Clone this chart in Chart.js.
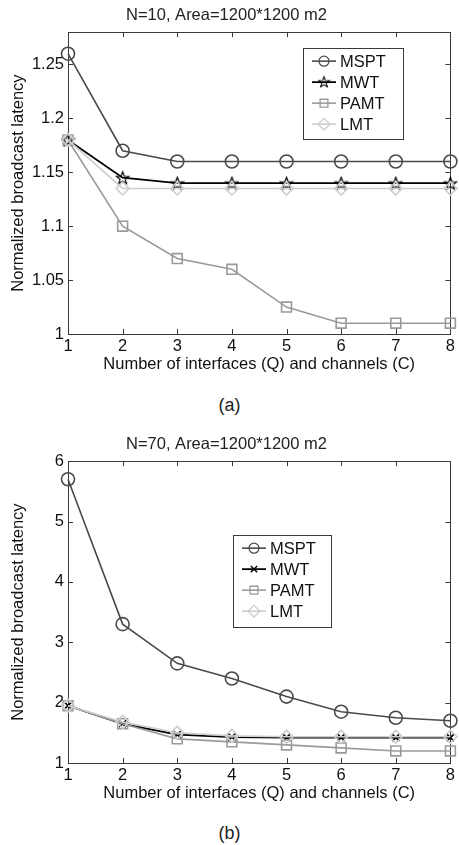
<!DOCTYPE html>
<html>
<head>
<meta charset="utf-8">
<script src="https://cdn.jsdelivr.net/npm/chart.js@4/dist/chart.umd.min.js"></script>
<style>
  html, body { margin: 0; padding: 0; background: #fff; }
  body { width: 459px; height: 845px; position: relative; overflow: hidden; font-family: "Liberation Sans", Arial, sans-serif; }
  .wrap { position: absolute; left: 0; width: 459px; height: 380px; }
  .cap { position: absolute; left: 0; width: 459px; text-align: center; font-size: 18px; color: #222; }
</style>
</head>
<body>
<div class="wrap" style="top:0"><canvas id="chartA"></canvas></div>
<div class="cap" style="top:395px">(a)</div>
<div class="wrap" style="top:429px"><canvas id="chartB"></canvas></div>
<div class="cap" style="top:823px">(b)</div>
<script>
// x positions: interfaces (Q) and channels (C)
const xValues = [1, 2, 3, 4, 5, 6, 7, 8];
const seriesNames = ['MSPT', 'MWT', 'PAMT', 'LMT'];

// (a) N=10
const mspA = [1.26, 1.17, 1.16, 1.16, 1.16, 1.16, 1.16, 1.16];
const mwtA = [1.18, 1.145, 1.14, 1.14, 1.14, 1.14, 1.14, 1.14];
const pamtA = [1.18, 1.10, 1.07, 1.06, 1.025, 1.01, 1.01, 1.01];
const lmtA = [1.18, 1.135, 1.135, 1.135, 1.135, 1.135, 1.135, 1.135];

// (b) N=70
const mspB = [5.7, 3.3, 2.65, 2.4, 2.1, 1.85, 1.75, 1.7];
const mwtB = [1.95, 1.65, 1.47, 1.43, 1.42, 1.42, 1.42, 1.42];
const pamtB = [1.95, 1.65, 1.4, 1.35, 1.3, 1.25, 1.2, 1.2];
const lmtB = [1.95, 1.68, 1.5, 1.45, 1.435, 1.435, 1.435, 1.435];

const FONT = "'Liberation Sans', Arial, sans-serif";
const FS = 16.5;
const colors = { MSPT: '#4a4a4a', MWT: '#000000', PAMT: '#9a9a9a', LMT: '#cdcdcd' };

// pentagram marker for MWT in (a)
function makeStar(size) {
    const c = document.createElement('canvas');
    c.width = size; c.height = size;
    const ctx = c.getContext('2d');
    const cx = size / 2, cy = size / 2 + 0.7, R = size / 2 - 1, r = R * 0.42;
    ctx.beginPath();
    for (let i = 0; i < 10; i++) {
        const ang = -Math.PI / 2 + i * Math.PI / 5;
        const rr = i % 2 === 0 ? R : r;
        const px = cx + rr * Math.cos(ang), py = cy + rr * Math.sin(ang);
        if (i === 0) ctx.moveTo(px, py); else ctx.lineTo(px, py);
    }
    ctx.closePath();
    ctx.strokeStyle = '#000';
    ctx.lineWidth = 1.2;
    ctx.stroke();
    return c;
}
const starImg = makeStar(15);

function pts(ys) { return xValues.map((x, i) => ({ x, y: ys[i] })); }

function ds(label, ys, style, radius, order) {
    return {
        label,
        data: pts(ys),
        borderColor: colors[label],
        backgroundColor: 'rgba(0,0,0,0)',
        pointBorderColor: colors[label],
        pointBackgroundColor: 'rgba(255,255,255,0)',
        borderWidth: label === 'MWT' ? 1.8 : 1.6,
        pointBorderWidth: 1.6,
        pointStyle: style,
        pointRadius: radius,
        pointHoverRadius: radius,
        tension: 0,
        clip: false,
        order
    };
}

// box + inward ticks, MATLAB style
const framePlugin = {
    id: 'frame',
    beforeDatasetsDraw(chart) {
        const { ctx, chartArea: a, scales } = chart;
        ctx.save();
        ctx.strokeStyle = '#3a3a3a';
        ctx.lineWidth = 1;
        ctx.strokeRect(Math.round(a.left) + 0.5, Math.round(a.top) + 0.5, Math.round(a.right - a.left), Math.round(a.bottom - a.top));
        const tl = 5;
        ctx.beginPath();
        scales.x.ticks.forEach(t => {
            const px = Math.round(scales.x.getPixelForValue(t.value)) + 0.5;
            ctx.moveTo(px, a.bottom); ctx.lineTo(px, a.bottom - tl);
            ctx.moveTo(px, a.top); ctx.lineTo(px, a.top + tl);
        });
        scales.y.ticks.forEach(t => {
            const py = Math.round(scales.y.getPixelForValue(t.value)) + 0.5;
            ctx.moveTo(a.left, py); ctx.lineTo(a.left + tl, py);
            ctx.moveTo(a.right, py); ctx.lineTo(a.right - tl, py);
        });
        ctx.stroke();
        ctx.restore();
    }
};

// legend box inside the plot
const boxLegendPlugin = {
    id: 'boxLegend',
    afterDatasetsDraw(chart, args, opts) {
        const { ctx, chartArea: a } = chart;
        const x0 = a.left + opts.x, y0 = a.top + opts.y;
        ctx.save();
        ctx.fillStyle = '#fff';
        ctx.fillRect(x0, y0, opts.w, opts.h);
        ctx.strokeStyle = '#3a3a3a';
        ctx.lineWidth = 1;
        ctx.strokeRect(Math.round(x0) + 0.5, Math.round(y0) + 0.5, opts.w, opts.h);
        const byLabel = {};
        chart.data.datasets.forEach(d => byLabel[d.label] = d);
        seriesNames.forEach((name, i) => {
            const d = byLabel[name];
            const cy = y0 + 13 + i * 21;
            ctx.strokeStyle = d.borderColor;
            ctx.lineWidth = d.borderWidth;
            ctx.beginPath();
            ctx.moveTo(x0 + 9, cy); ctx.lineTo(x0 + 33, cy);
            ctx.stroke();
            if (d.pointStyle instanceof HTMLCanvasElement) {
                const s = 13;
                ctx.drawImage(d.pointStyle, x0 + 21 - s / 2, cy - s / 2 - 0.5, s, s);
            } else {
                const r = d.pointStyle === 'circle' ? 5 : (d.pointStyle === 'rect' ? 5.5 : d.pointRadius * 0.9);
                ctx.fillStyle = 'rgba(255,255,255,0)';
                ctx.strokeStyle = d.borderColor;
                ctx.lineWidth = 1.3;
                Chart.helpers.drawPoint(ctx, {
                    pointStyle: d.pointStyle, radius: r, rotation: 0,
                    borderWidth: 1.3
                }, x0 + 21, cy);
            }
            ctx.fillStyle = '#111';
            ctx.font = FS + 'px ' + FONT;
            ctx.textBaseline = 'middle';
            ctx.fillText(name, x0 + 37, cy + 1);
        });
        ctx.restore();
    }
};

function makeOptions(title, yMin, yMax, yStep, legendPos) {
    return {
        responsive: true,
        maintainAspectRatio: false,
        animation: false,
        events: [],
        layout: { padding: { right: 6 } },
        plugins: {
            legend: { display: false },
            tooltip: { enabled: false },
            title: {
                display: true, text: title, color: '#222',
                font: { family: FONT, size: FS, weight: 'normal', lineHeight: 1.1 },
                padding: { top: 6, bottom: 8 }
            },
            boxLegend: legendPos
        },
        scales: {
            x: {
                type: 'linear', min: 1, max: 8,
                grid: { display: false, drawTicks: false },
                border: { display: false },
                ticks: { stepSize: 1, padding: 3, color: '#111', font: { family: FONT, size: FS } },
                title: {
                    display: true, text: 'Number of interfaces (Q) and channels (C)', color: '#111',
                    font: { family: FONT, size: FS, lineHeight: 1.1 }, padding: { top: 0, bottom: 6 }
                },
                afterFit: s => { s.height = 46; }
            },
            y: {
                min: yMin, max: yMax,
                grid: { display: false, drawTicks: false },
                border: { display: false },
                ticks: {
                    stepSize: yStep, includeBounds: false, padding: 4, color: '#111',
                    font: { family: FONT, size: FS },
                    callback: v => String(+v.toFixed(2))
                },
                title: {
                    display: true, text: 'Normalized broadcast latency', color: '#111',
                    font: { family: FONT, size: FS, lineHeight: 1.1 }, padding: { top: 9, bottom: 0 }
                },
                afterFit: s => { s.width = 68; }
            }
        }
    };
}

new Chart(document.getElementById('chartA'), {
    type: 'line',
    data: {
        datasets: [
            ds('MSPT', mspA, 'circle', 6.5, 4),
            ds('MWT', mwtA, starImg, 7, 3),
            ds('PAMT', pamtA, 'rect', 7, 2),
            ds('LMT', lmtA, 'rectRot', 6.5, 1)
        ]
    },
    options: makeOptions('N=10, Area=1200*1200 m2', 1, 1.28, 0.05, { x: 235, y: 16, w: 100, h: 91 }),
    plugins: [framePlugin, boxLegendPlugin]
});

new Chart(document.getElementById('chartB'), {
    type: 'line',
    data: {
        datasets: [
            ds('MSPT', mspB, 'circle', 6.5, 4),
            ds('MWT', mwtB, 'crossRot', 5, 3),
            ds('PAMT', pamtB, 'rect', 7, 2),
            ds('LMT', lmtB, 'rectRot', 6.5, 1)
        ]
    },
    options: makeOptions('N=70, Area=1200*1200 m2', 1, 6, 1, { x: 165, y: 74, w: 98, h: 92 }),
    plugins: [framePlugin, boxLegendPlugin]
});
</script>
</body>
</html>
